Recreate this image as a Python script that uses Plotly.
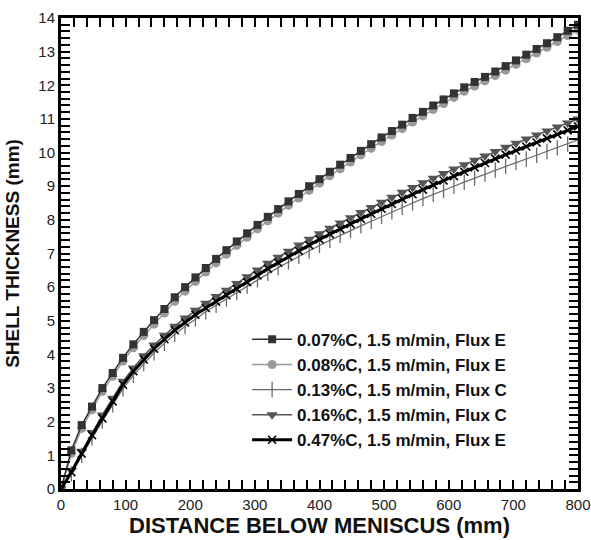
import plotly.graph_objects as go

distance_mm = [0, 16, 32, 48, 64, 80, 96, 112, 128, 144, 160, 176, 192, 208, 224, 240,
               256, 272, 288, 304, 320, 336, 352, 368, 384, 400, 416, 432, 448, 464,
               480, 496, 512, 528, 544, 560, 576, 592, 608, 624, 640, 656, 672, 688,
               704, 720, 736, 752, 768, 784, 800]

c007_fluxE = [0.0, 1.15, 1.9, 2.45, 3.0, 3.45, 3.9, 4.3, 4.67, 5.02,
              5.35, 5.70, 6.00, 6.29, 6.57, 6.84, 7.10, 7.36, 7.60, 7.85,
              8.09, 8.32, 8.55, 8.77, 9.00, 9.21, 9.43, 9.64, 9.84, 10.05,
              10.25, 10.45, 10.64, 10.83, 11.03, 11.21, 11.40, 11.58, 11.76, 11.94,
              12.10, 12.25, 12.41, 12.57, 12.74, 12.91, 13.08, 13.25, 13.43, 13.62,
              13.8]

c008_fluxE = [0.0, 1.05, 1.8, 2.35, 2.9, 3.35, 3.8, 4.2, 4.56, 4.9,
              5.23, 5.58, 5.88, 6.17, 6.45, 6.72, 6.98, 7.24, 7.48, 7.73,
              7.97, 8.20, 8.43, 8.65, 8.88, 9.09, 9.31, 9.52, 9.72, 9.93,
              10.13, 10.33, 10.52, 10.71, 10.91, 11.09, 11.28, 11.46, 11.64, 11.82,
              11.98, 12.13, 12.29, 12.45, 12.62, 12.79, 12.96, 13.13, 13.30, 13.48,
              13.65]

c013_fluxC = [0.0, 0.45, 1.0, 1.52, 2.02, 2.5, 2.98, 3.38, 3.73, 4.05,
              4.33, 4.6, 4.83, 5.06, 5.27, 5.46, 5.65, 5.84, 6.03, 6.22,
              6.41, 6.58, 6.75, 6.92, 7.08, 7.24, 7.39, 7.54, 7.68, 7.82,
              7.96, 8.10, 8.24, 8.37, 8.50, 8.63, 8.76, 8.88, 9.00, 9.12,
              9.24, 9.36, 9.48, 9.59, 9.70, 9.81, 9.92, 10.03, 10.14, 10.25,
              10.38]

c016_fluxC = [0.0, 0.55, 1.12, 1.68, 2.2, 2.7, 3.2, 3.6, 3.96, 4.28,
              4.57, 4.84, 5.08, 5.31, 5.52, 5.72, 5.91, 6.11, 6.31, 6.51,
              6.71, 6.89, 7.07, 7.25, 7.42, 7.59, 7.75, 7.91, 8.06, 8.22,
              8.37, 8.52, 8.67, 8.82, 8.96, 9.10, 9.24, 9.38, 9.51, 9.64,
              9.77, 9.90, 10.03, 10.16, 10.28, 10.40, 10.52, 10.64, 10.76, 10.88,
              11.0]

c047_fluxE = [0.0, 0.5, 1.05, 1.6, 2.1, 2.6, 3.1, 3.5, 3.85, 4.17,
              4.45, 4.72, 4.95, 5.18, 5.38, 5.57, 5.76, 5.95, 6.15, 6.35,
              6.55, 6.73, 6.91, 7.08, 7.25, 7.42, 7.58, 7.73, 7.88, 8.03,
              8.18, 8.33, 8.47, 8.62, 8.76, 8.90, 9.04, 9.17, 9.30, 9.43,
              9.56, 9.69, 9.82, 9.94, 10.06, 10.18, 10.30, 10.42, 10.54, 10.66,
              10.78]

series_names = ["0.07%C, 1.5 m/min, Flux E", "0.08%C, 1.5 m/min, Flux E",
                "0.13%C, 1.5 m/min, Flux C", "0.16%C, 1.5 m/min, Flux C",
                "0.47%C, 1.5 m/min, Flux E"]

# tick positions (labelled every 100 mm / 1 mm, unlabelled every 20 mm / 0.2 mm)
x_tickvals = [v for v in range(0, 801, 20)]
x_ticktext = [str(v) if v % 100 == 0 else "" for v in x_tickvals]
y_tickvals = [round(i * 0.2, 1) for i in range(0, 71)]
y_ticktext = [str(int(v)) if abs(v - round(v)) < 1e-9 else "" for v in y_tickvals]

FONT = "Liberation Sans, Arial, Helvetica, sans-serif"

fig = go.Figure()

styles = [
    dict(data=c008_fluxE, idx=1, color="#9a9a9a", lw=1.5, sym="circle", ms=9, mlw=0),
    dict(data=c007_fluxE, idx=0, color="#333333", lw=1.5, sym="square", ms=8, mlw=0),
    dict(data=c016_fluxC, idx=3, color="#555555", lw=1.5, sym="triangle-down", ms=10, mlw=0),
    dict(data=c013_fluxC, idx=2, color="#6a6a6a", lw=1.2, sym="line-ns", ms=11, mlw=1.3),
    dict(data=c047_fluxE, idx=4, color="#000000", lw=3, sym="x-thin", ms=8, mlw=1.6),
]

for s in styles:
    fig.add_trace(go.Scatter(
        x=distance_mm, y=s["data"], name="<b>" + series_names[s["idx"]] + "</b>",
        mode="lines+markers",
        line=dict(color=s["color"], width=s["lw"]),
        marker=dict(symbol=s["sym"], size=s["ms"], color=s["color"],
                    line=dict(color=s["color"], width=s["mlw"])),
        legendrank=s["idx"] + 1,
    ))

axis_common = dict(
    showgrid=False, zeroline=False, showline=True, linecolor="black", linewidth=3,
    mirror="ticks", ticks="inside", ticklen=9, tickwidth=2, tickcolor="#000000",
    layer="above traces",
    tickfont=dict(family=FONT, size=15, color="#222222"),
)

fig.update_xaxes(
    range=[0, 800], tickmode="array", tickvals=x_tickvals, ticktext=x_ticktext,
    automargin="bottom",
    title=dict(text="<b>DISTANCE BELOW MENISCUS (mm)</b>",
               font=dict(family=FONT, size=22, color="#111111"), standoff=0),
    **axis_common,
)
fig.update_yaxes(
    range=[0, 14], tickmode="array", tickvals=y_tickvals, ticktext=y_ticktext,
    automargin="left",
    title=dict(text="<b>SHELL THICKNESS (mm)</b>",
               font=dict(family=FONT, size=19, color="#111111"), standoff=14),
    **axis_common,
)

fig.update_layout(
    width=591, height=540,
    margin=dict(l=61, r=13, t=18, b=51),
    paper_bgcolor="white", plot_bgcolor="rgba(0,0,0,0)",
    showlegend=True,
    legend=dict(x=0.36, y=0.355, xanchor="left", yanchor="top",
                bgcolor="rgba(0,0,0,0)", borderwidth=0,
                font=dict(family=FONT, size=17, color="#111111"),
                traceorder="normal", itemwidth=40),
    font=dict(family=FONT),
)

fig.write_html("out.html", config={"displayModeBar": False},
               post_script="document.body.style.margin='0';")
